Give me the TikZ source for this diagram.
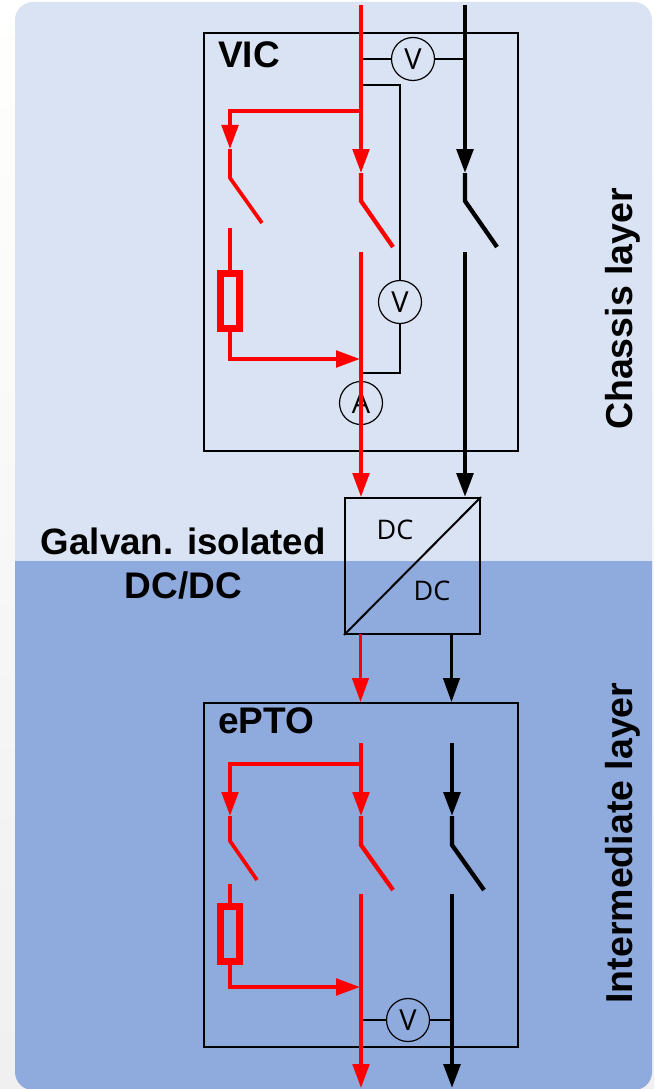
\documentclass[tikz,border=0pt]{standalone}
\usepackage{fontspec}
\setmainfont{Liberation Sans}
\newfontfamily\dcfont{Open Sans}
\usetikzlibrary{arrows.meta}
\definecolor{paneltop}{HTML}{DAE3F3}
\definecolor{panelbot}{HTML}{8FAADC}
\definecolor{wirered}{HTML}{FF0000}
\tikzset{
  redwire/.style={draw=wirered,line width=#1},
  redwire/.default=3.7pt,
  blackwire/.style={draw=black,line width=#1},
  blackwire/.default=4.3pt,
  tipped/.style={-{Triangle[length=24pt,width=16.5pt]}},
  tipright/.style={-{Triangle[length=24pt,width=16.5pt]}},
  thinwire/.style={draw=black,line width=1.3pt},
  meter/.style={circle,draw=black,line width=1.2pt,minimum size=43pt,inner sep=0pt,font=\fontsize{29}{32}\selectfont\dcfont},
  unitbox/.style={rectangle,draw=black,line width=2pt,inner sep=0pt},
  boldlabel/.style={font=\fontsize{37}{41}\selectfont\bfseries,inner sep=0pt},
  galvanlabel/.style={font=\fontsize{36.7}{41}\selectfont\bfseries,inner sep=0pt},
  layerlabel/.style={font=\fontsize{37.5}{41}\selectfont\bfseries,inner sep=0pt,rotate=90},
  dclabel/.style={font=\fontsize{27}{30}\selectfont\dcfont,inner sep=0pt},
  resistor/.style={rectangle,draw=wirered,line width=7pt,inner sep=0pt,minimum width=18.5pt,minimum height=55pt}
}
\begin{document}
\begin{tikzpicture}[x=1pt,y=-1pt]
\useasboundingbox (0,0) rectangle (654,1089);
% page background and layer panels
\shade[top color=white,bottom color=black!6] (0,0) rectangle (654,1089);
\fill[paneltop] (15,561) [rounded corners=18pt] -- (15,2) -- (652,2) [sharp corners] -- (652,561) -- cycle;
\fill[panelbot] (15,561) [rounded corners=18pt] -- (15,1090) -- (652,1090) [sharp corners] -- (652,561) -- cycle;

% unit boxes
\node[unitbox,minimum width=314pt,minimum height=418pt] (vic) at (360.5,242) {};
\node[unitbox,minimum width=314pt,minimum height=344pt] (epto) at (360.5,875) {};
\node[unitbox,minimum width=135pt,minimum height=136pt] (dcdc) at (412.5,566) {};
\draw[line width=2pt] (dcdc.south west) -- (dcdc.north east);

% texts
\node[boldlabel,anchor=west] (viclabel) at (218,55) {VIC};
\node[boldlabel,anchor=west] (eptolabel) at (218,721) {ePTO};
\node[galvanlabel,anchor=east] (galvan) at (326,541) {Galvan. isolated};
\node[boldlabel,anchor=east] (dcdclabel) at (242,585) {DC/DC};
\node[layerlabel] (chassis) at (623,309) {Chassis layer};
\node[layerlabel] (intermediate) at (623,843) {Intermediate layer};
\node[dclabel] (dcone) at (395,530) {DC};
\node[dclabel] (dctwo) at (432,591) {DC};

% meters
\node[meter] (vone) at (413,59) {V};
\node[meter] (vtwo) at (400,302) {V};
\node[meter] (amp) at (361,403) {A};
\node[meter] (vthree) at (408,1020) {V};

% named points, upper part
\coordinate (rTop) at (361,5);
\coordinate (bTop) at (465,5);
\coordinate (rVone) at (361,59);
\coordinate (bVone) at (465,59);
\coordinate (rVtwoA) at (361,85);
\coordinate (vtwoA) at (400,85);
\coordinate (vtwoB) at (400,373);
\coordinate (rVtwoB) at (361,373);
\coordinate (rBranch) at (361,111);
\coordinate (lBranch) at (230,111);
\coordinate (lContact) at (230,149);
\coordinate (lHinge) at (230,178);
\coordinate (lBlade) at (262,223);
\coordinate (lFixed) at (230,228);
\coordinate (rContact) at (361,173);
\coordinate (rHinge) at (361,201);
\coordinate (rBlade) at (393,247);
\coordinate (rFixed) at (361,252);
\coordinate (bContact) at (465,173);
\coordinate (bHinge) at (465,201);
\coordinate (bBlade) at (497,247);
\coordinate (bFixed) at (465,252);
\coordinate (rIn) at (361,497);
\coordinate (bIn) at (465,497);
\coordinate (resElbow) at (230,359);
\coordinate (resEnd) at (360,359);
\node[resistor] (resone) at (230,301) {};

% wires, upper part
\draw[thinwire] (rVone) -- (vone) -- (bVone);
\draw[thinwire] (rVtwoA) -- (vtwoA) -- (vtwo) -- (vtwoB) -- (rVtwoB);
\draw[redwire,tipped] (rTop) -- (rContact);
\draw[redwire,tipped] (rBranch) -- (lBranch) -- (lContact);
\draw[redwire,line cap=butt] (lContact) -- (lHinge) -- (lBlade);
\draw[redwire=4.3pt] (rContact) -- (rHinge) -- (rBlade);
\draw[redwire] (lFixed) -- (resone.north);
\draw[redwire,tipright] (resone.south) -- (resElbow) -- (resEnd);
\draw[redwire,tipped] (rFixed) -- (rIn);
\draw[blackwire,tipped] (bTop) -- (bContact);
\draw[blackwire] (bContact) -- (bHinge) -- (bBlade);
\draw[blackwire,tipped] (bFixed) -- (bIn);

% named points, converter to lower unit
\coordinate (rOut) at (360.5,634);
\coordinate (bOut) at (451.5,634);
\coordinate (rEpto) at (360.5,702);
\coordinate (bEpto) at (451.5,702);
\draw[redwire=3pt,tipped] (rOut) -- (rEpto);
\draw[blackwire=3pt,tipped] (bOut) -- (bEpto);

% named points, lower part
\coordinate (rTopE) at (361,743);
\coordinate (bTopE) at (452,743);
\coordinate (rBranchE) at (361,764);
\coordinate (lBranchE) at (230,764);
\coordinate (lContactE) at (230,816);
\coordinate (lHingeE) at (230,841);
\coordinate (lBladeE) at (257,880);
\coordinate (lFixedE) at (230,884);
\coordinate (rContactE) at (361,816);
\coordinate (rHingeE) at (361,845);
\coordinate (rBladeE) at (393,890);
\coordinate (rFixedE) at (361,894);
\coordinate (bContactE) at (452,816);
\coordinate (bHingeE) at (452,845);
\coordinate (bBladeE) at (484,890);
\coordinate (bFixedE) at (452,894);
\coordinate (rEnd) at (361,1088);
\coordinate (bEnd) at (452,1088);
\coordinate (rVthree) at (361,1020);
\coordinate (bVthree) at (452,1020);
\coordinate (resElbowE) at (230,987);
\coordinate (resEndE) at (360,987);
\node[resistor] (restwo) at (230,934) {};

% wires, lower part
\draw[thinwire] (rVthree) -- (vthree) -- (bVthree);
\draw[redwire,tipped] (rTopE) -- (rContactE);
\draw[redwire,tipped] (rBranchE) -- (lBranchE) -- (lContactE);
\draw[redwire] (lContactE) -- (lHingeE) -- (lBladeE);
\draw[redwire=4.3pt] (rContactE) -- (rHingeE) -- (rBladeE);
\draw[redwire] (lFixedE) -- (restwo.north);
\draw[redwire,tipright] (restwo.south) -- (resElbowE) -- (resEndE);
\draw[redwire,tipped] (rFixedE) -- (rEnd);
\draw[blackwire,tipped] (bTopE) -- (bContactE);
\draw[blackwire] (bContactE) -- (bHingeE) -- (bBladeE);
\draw[blackwire,tipped] (bFixedE) -- (bEnd);
\end{tikzpicture}
\end{document}
